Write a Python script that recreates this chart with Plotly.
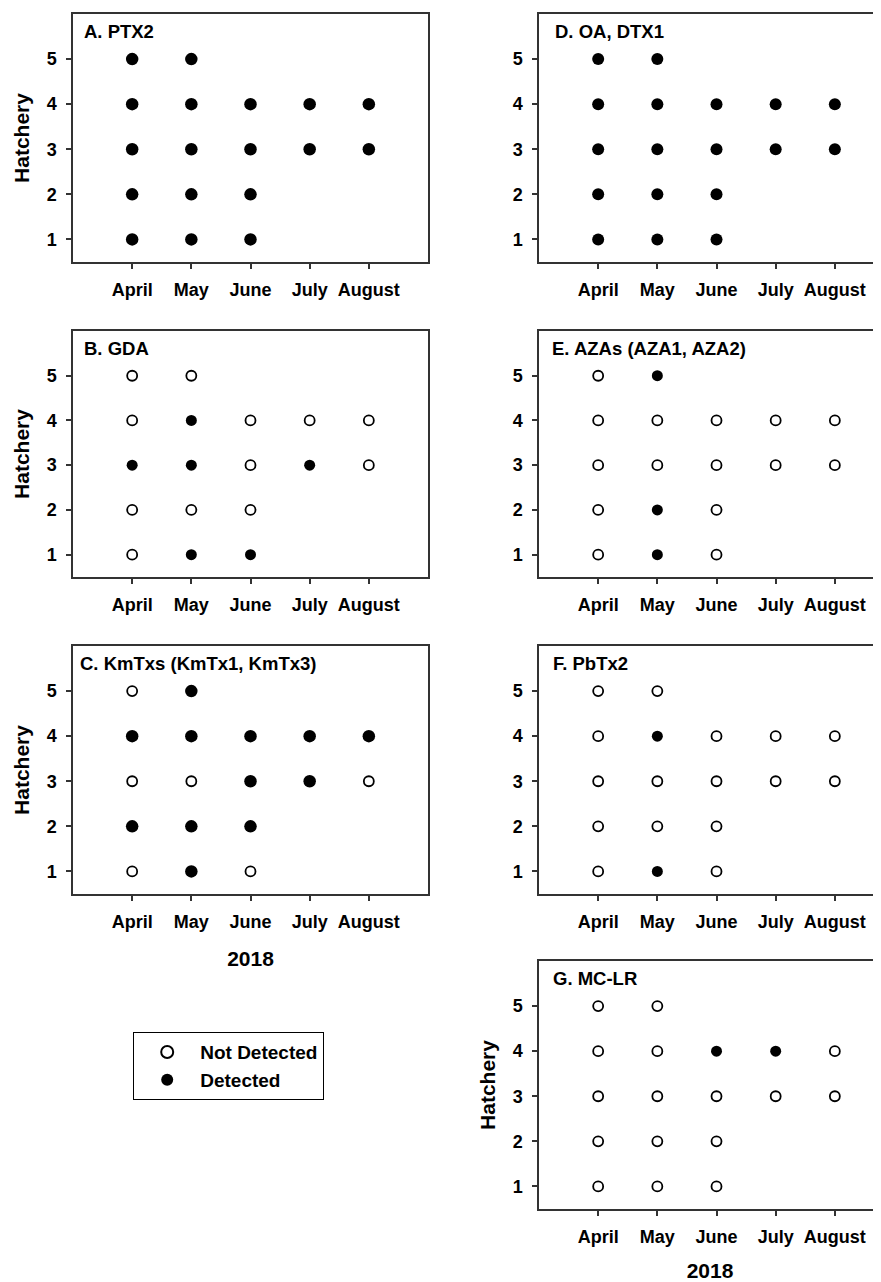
import plotly.graph_objects as go

months = ["April", "May", "June", "July", "August"]
hatchery_ticks = [1, 2, 3, 4, 5]

# sampled month / hatchery combinations (18 samples)
sample_month = ["April", "April", "April", "April", "April",
                "May", "May", "May", "May", "May",
                "June", "June", "June", "June",
                "July", "July",
                "August", "August"]
sample_hatchery = [1, 2, 3, 4, 5,
                   1, 2, 3, 4, 5,
                   1, 2, 3, 4,
                   3, 4,
                   3, 4]

# detection status per panel (1 = Detected, 0 = Not Detected), aligned with samples
ptx2 =  [1, 1, 1, 1, 1,  1, 1, 1, 1, 1,  1, 1, 1, 1,  1, 1,  1, 1]
gda =   [0, 0, 1, 0, 0,  1, 0, 1, 1, 0,  1, 0, 0, 0,  1, 0,  0, 0]
kmtxs = [0, 1, 0, 1, 0,  1, 1, 0, 1, 1,  0, 1, 1, 1,  1, 1,  0, 1]
oa_dtx1 = [1, 1, 1, 1, 1,  1, 1, 1, 1, 1,  1, 1, 1, 1,  1, 1,  1, 1]
azas =  [0, 0, 0, 0, 0,  1, 1, 0, 0, 1,  0, 0, 0, 0,  0, 0,  0, 0]
pbtx2 = [0, 0, 0, 0, 0,  1, 0, 0, 1, 0,  0, 0, 0, 0,  0, 0,  0, 0]
mclr =  [0, 0, 0, 0, 0,  0, 0, 0, 0, 0,  0, 0, 0, 1,  0, 1,  0, 0]

panel_titles = ["A. PTX2", "B. GDA", "C. KmTxs (KmTx1, KmTx3)",
                "D. OA, DTX1", "E. AZAs (AZA1, AZA2)", "F. PbTx2", "G. MC-LR"]
panel_status = [ptx2, gda, kmtxs, oa_dtx1, azas, pbtx2, mclr]

PAGE_OFF = 8            # browser body margin
W, H = 881 - PAGE_OFF, 1282 - PAGE_OFF
FONT = "Arial, Liberation Sans, sans-serif"
LINE = "#333333"

# layout geometry (page pixels)
left_col = (73, 428)
right_col = (539, 881)
rows = [(14, 262), (331, 577), (646, 894), (961, 1209)]
placement = [(0, 0), (0, 1), (0, 2), (1, 0), (1, 1), (1, 2), (1, 3)]
filled_size = [12.5, 11, 12.5, 12, 11, 11, 11]
title_xshift = [9, 9, 5, 14, 11, 12, 12]


def fx(p):
    return (p - PAGE_OFF) / W


def fy(p):
    return 1 - (p - PAGE_OFF) / H


fig = go.Figure()
layout = {}
annotations = []

for i, (title, status) in enumerate(zip(panel_titles, panel_status)):
    col, row = placement[i]
    n = i + 1
    xa = "x" if n == 1 else f"x{n}"
    ya = "y" if n == 1 else f"y{n}"
    xkey = "xaxis" if n == 1 else f"xaxis{n}"
    ykey = "yaxis" if n == 1 else f"yaxis{n}"

    nd_x = [m for m, s in zip(sample_month, status) if s == 0]
    nd_y = [h for h, s in zip(sample_hatchery, status) if s == 0]
    d_x = [m for m, s in zip(sample_month, status) if s == 1]
    d_y = [h for h, s in zip(sample_hatchery, status) if s == 1]

    fig.add_trace(go.Scatter(
        x=nd_x, y=nd_y, mode="markers", xaxis=xa, yaxis=ya,
        name="Not Detected", legendgroup="nd", showlegend=(i == 1), legendrank=1,
        marker=dict(symbol="circle", size=10, color="white",
                    line=dict(color="black", width=1.8)),
    ))
    fig.add_trace(go.Scatter(
        x=d_x, y=d_y, mode="markers", xaxis=xa, yaxis=ya,
        name="Detected", legendgroup="d", showlegend=(i == 1), legendrank=2,
        marker=dict(symbol="circle", size=filled_size[i], color="black",
                    line=dict(color="black", width=0)),
    ))

    x0, x1 = left_col if col == 0 else right_col
    y0, y1 = rows[row]
    xr_end = -1 + (x1 - x0) / 59.17 if col == 1 else 5

    xaxis = dict(
        domain=[fx(x0), min(fx(x1), 1.0)], anchor=ya, type="category",
        categoryorder="array", categoryarray=months, range=[-1, xr_end],
        showline=True, linecolor=LINE, linewidth=1.5, mirror=True,
        ticks="outside", ticklen=5, tickwidth=1.5, tickcolor=LINE,
        showgrid=False, zeroline=False, ticklabelstandoff=6,
        tickfont=dict(family=FONT, size=18, color="black", weight="bold"),
    )
    yaxis = dict(
        domain=[fy(y1), fy(y0)], anchor=xa, range=[0.5, 6.0],
        tickmode="array", tickvals=hatchery_ticks,
        showline=True, linecolor=LINE, linewidth=1.5, mirror=(col == 0),
        ticks="outside", ticklen=5, tickwidth=1.5, tickcolor=LINE,
        showgrid=False, zeroline=False, ticklabelstandoff=6,
        tickfont=dict(family=FONT, size=18, color="black", weight="bold"),
    )
    if title[0] in "ABCG":
        yaxis["title"] = dict(text="Hatchery", standoff=11,
                              font=dict(family=FONT, size=21, color="black", weight="bold"))
    if title[0] in "CG":
        xaxis["title"] = dict(text="2018", standoff=20,
                              font=dict(family=FONT, size=21, color="black", weight="bold"))
    layout[xkey] = xaxis
    layout[ykey] = yaxis

    annotations.append(dict(
        text=title, xref=f"{xa} domain", yref=f"{ya} domain",
        x=0, y=1, xanchor="left", yanchor="top",
        xshift=title_xshift[i], yshift=-5, showarrow=False,
        font=dict(family=FONT, size=18.5, color="black", weight="bold"),
    ))

fig.update_layout(**layout)
fig.update_layout(
    width=W, height=H,
    margin=dict(l=0, r=0, t=0, b=0),
    paper_bgcolor="white", plot_bgcolor="white",
    annotations=annotations,
    showlegend=True,
    legend=dict(
        x=fx(133), y=fy(1032), xanchor="left", yanchor="top",
        bordercolor="black", borderwidth=1.2, bgcolor="white",
        font=dict(family=FONT, size=19, color="black", weight="bold"),
        itemsizing="constant", itemwidth=56, tracegroupgap=0,
    ),
)

fig.write_html("out.html")
